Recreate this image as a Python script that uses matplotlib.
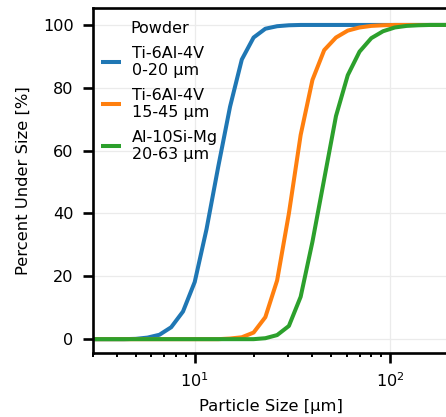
import numpy as np
import matplotlib
matplotlib.use("Agg")
import matplotlib.pyplot as plt

# particle size classes [µm]
sizes = [2.87, 3.30, 3.79, 4.35, 5.00, 5.74, 6.60, 7.58, 8.71, 10.0, 11.49,
         13.20, 15.16, 17.41, 20.0, 22.97, 26.39, 30.31, 34.82, 40.0, 45.95,
         52.78, 60.63, 69.64, 80.0, 91.9, 105.6, 121.3, 139.3, 160.0, 183.8, 211.1]

ti_0_20 = [0, 0, 0, 0, 0.1, 0.5, 1.4, 3.8, 8.8, 18.2, 35, 55, 74, 89, 96, 98.8,
           99.6, 99.9, 100, 100, 100, 100, 100, 100, 100, 100, 100, 100, 100, 100, 100, 100]
ti_15_45 = [0, 0, 0, 0, 0, 0, 0, 0, 0, 0, 0, 0, 0.2, 0.6, 2.1, 7.0, 18.7, 40, 65,
            82.5, 92, 96, 98.2, 99.2, 99.7, 99.9, 100, 100, 100, 100, 100, 100]
al_20_63 = [0, 0, 0, 0, 0, 0, 0, 0, 0, 0, 0, 0, 0, 0, 0, 0.3, 1.3, 4.2, 13.5, 31,
            51, 71, 84, 91.5, 95.8, 98, 99.2, 99.7, 99.9, 100, 100, 100]

labels = ["Ti-6Al-4V\n0-20 µm", "Ti-6Al-4V\n15-45 µm", "Al-10Si-Mg\n20-63 µm"]
colors = ["#1f77b4", "#ff7f0e", "#2ca02c"]
yticks = [0, 20, 40, 60, 80, 100]

W, H = 446, 417
fig = plt.figure(figsize=(W / 100, H / 100), dpi=100)
left, right, top, bottom = 92.5, 449.1, 8.3, 353.3
ax = fig.add_axes([left / W, 1 - bottom / H, (right - left) / W, (bottom - top) / H])

for ys, lab, c in zip([ti_0_20, ti_15_45, al_20_63], labels, colors):
    ax.plot(sizes, ys, color=c, lw=2.9, label=lab, solid_capstyle="butt")

ax.set_xscale("log")
ax.set_xlim(3, 200)
ax.set_ylim(-4.5, 105.3)
ax.set_yticks(yticks)
ax.grid(True, which="major", color="#ebebeb", lw=0.9)
ax.set_axisbelow(True)

for s in ax.spines.values():
    s.set_linewidth(1.9)
    s.set_color("black")

ax.tick_params(axis="both", which="major", length=7.3, width=1.9, labelsize=11.6,
               colors="black")
ax.tick_params(axis="y", which="major", pad=6.2)
ax.tick_params(axis="x", which="major", pad=5.5)
ax.tick_params(axis="x", which="minor", length=3, width=1.4)

ax.set_xlabel("Particle Size [µm]", fontsize=11.8, labelpad=7)
ax.set_ylabel("Percent Under Size [%]", fontsize=11.8, labelpad=8.5)

leg = ax.legend(title="Powder", loc="upper left", bbox_to_anchor=(-0.013, 1.0),
                frameon=False, fontsize=11.5, title_fontsize=11.5,
                handlelength=1.25, handletextpad=0.7,
                labelspacing=0.6, borderaxespad=0.6, borderpad=0.2)
leg._legend_box.sep = 7

fig.savefig("out.png", dpi=100)
